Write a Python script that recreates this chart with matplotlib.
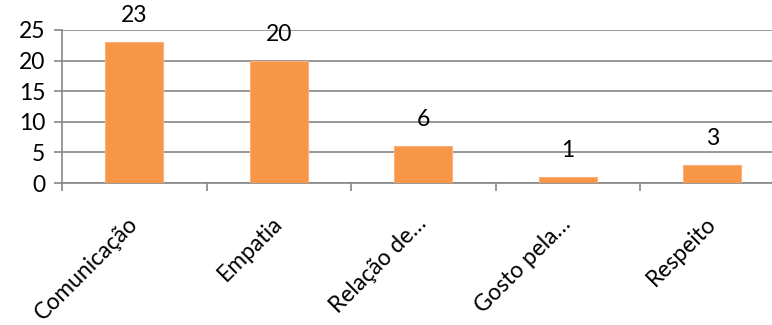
import matplotlib
matplotlib.use('Agg')
import matplotlib.pyplot as plt

# Chart values.
CATEGORIES = ['Comunicação', 'Empatia', 'Relação de…', 'Gosto pela…', 'Respeito']
COUNTS = [23, 20, 6, 1, 3]
Y_TICKS = [0, 5, 10, 15, 20, 25]

BAR_COLOR = '#F79646'
GRID_COLOR = '#868686'

plt.rcParams['font.family'] = ['Lato', 'DejaVu Sans']
plt.rcParams['font.size'] = 16.5

fig = plt.figure(figsize=(7.72, 3.25), dpi=100)
# The plot area runs past the right edge of the picture, as in the reference.
ax = fig.add_axes([62 / 772, 142 / 325, 722.5 / 772, 153 / 325])

x = range(len(CATEGORIES))
bars = ax.bar(x, COUNTS, width=0.4, color=BAR_COLOR, edgecolor='#FAB07A',
              linewidth=0.8, zorder=3)
for rect, value in zip(bars, COUNTS):
  ax.annotate(str(value),
              (rect.get_x() + rect.get_width() / 2, rect.get_height()),
              xytext=(0, 19), textcoords='offset points',
              ha='center', va='center')

ax.set_xlim(-0.5, len(CATEGORIES) - 0.5)
ax.set_ylim(0, 25)
ax.set_yticks(Y_TICKS)
ax.yaxis.grid(True, color=GRID_COLOR, linewidth=1.2, zorder=0)
ax.set_axisbelow(True)

ax.set_xticks([i - 0.5 for i in range(len(CATEGORIES) + 1)], minor=False)
ax.set_xticklabels([''] * (len(CATEGORIES) + 1))
ax.set_xticks(list(x), minor=True)
ax.set_xticklabels(CATEGORIES, minor=True, rotation=45, ha='right',
                   va='center', rotation_mode='anchor')
ax.tick_params(axis='x', which='minor', length=0, pad=27)
ax.tick_params(axis='x', which='major', length=6, width=1.2, color=GRID_COLOR)
ax.tick_params(axis='y', length=6, width=1.2, color=GRID_COLOR, pad=6)

for side in ('top', 'right'):
  ax.spines[side].set_visible(False)
for side in ('left', 'bottom'):
  ax.spines[side].set_color(GRID_COLOR)
  ax.spines[side].set_linewidth(1.2)

fig.savefig('out.png', dpi=100)
